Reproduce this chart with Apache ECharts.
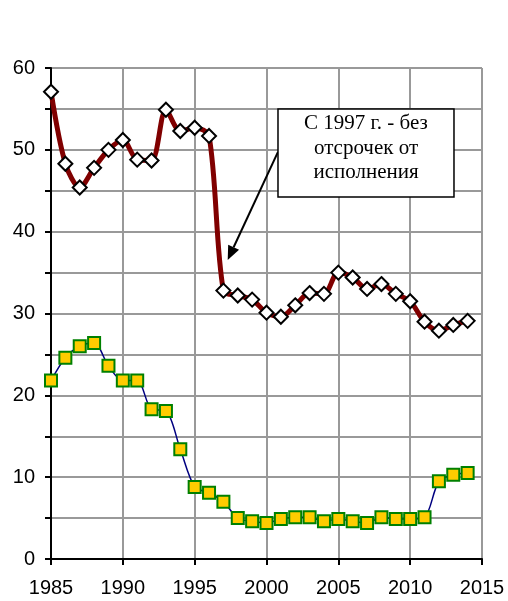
<!DOCTYPE html>
<html><head><meta charset="utf-8">
<script src="https://cdn.jsdelivr.net/npm/echarts@6/dist/echarts.min.js"></script>
<style>html,body{margin:0;padding:0;background:#fff}#c{width:508px;height:601px}</style>
</head><body><div id="c"></div>
<script>
const years = [1985,1986,1987,1988,1989,1990,1991,1992,1993,1994,1995,1996,1997,1998,1999,2000,2001,2002,2003,2004,2005,2006,2007,2008,2009,2010,2011,2012,2013,2014];
const seriesTop = [57.1,48.3,45.4,47.8,50.0,51.2,48.8,48.7,54.9,52.3,52.7,51.7,32.8,32.2,31.7,30.1,29.6,31.0,32.5,32.4,35.0,34.4,33.0,33.6,32.4,31.5,29.0,27.9,28.6,29.1];
const seriesBottom = [21.8,24.6,26.0,26.4,23.6,21.8,21.8,18.3,18.1,13.4,8.8,8.1,7.0,5.0,4.6,4.4,4.9,5.1,5.1,4.6,4.9,4.6,4.4,5.1,4.9,4.9,5.1,9.5,10.3,10.5];
const annotationLines = ['С 1997 г. - без','отсрочек от','исполнения'];

const chart = echarts.init(document.getElementById('c'), null, {renderer:'canvas'});
const font = "'Liberation Sans', Arial, sans-serif";
chart.setOption({
  animation:false,
  grid:{left:51,right:26,top:68,bottom:42,containLabel:false},
  xAxis:{type:'value',min:1985,max:2015,interval:5,
    axisLine:{show:true,onZero:false,lineStyle:{color:'#000',width:2}},
    axisTick:{show:true,length:6,lineStyle:{color:'#000',width:2}},
    axisLabel:{color:'#000',fontSize:20,fontFamily:font,margin:19,formatter:v=>String(v)},
    splitLine:{show:true,lineStyle:{color:'#999',width:2}}},
  yAxis:{type:'value',min:0,max:60,interval:5,
    axisLine:{show:true,lineStyle:{color:'#000',width:2}},
    axisTick:{show:true,length:6,lineStyle:{color:'#000',width:2}},
    axisLabel:{color:'#000',fontSize:20,fontFamily:font,margin:16,
      formatter:v=> (v%10===0? String(v):'')},
    splitLine:{show:true,lineStyle:{color:'#999',width:2}}},
  series:[
    {type:'line',data:years.map((y,i)=>[y,seriesBottom[i]]),smooth:0.3,
      lineStyle:{color:'#000080',width:1.5},symbol:'rect',symbolSize:12,
      itemStyle:{color:'#FFCC00',borderColor:'#008000',borderWidth:2},z:3},
    {type:'line',data:years.map((y,i)=>[y,seriesTop[i]]),smooth:0.3,
      lineStyle:{color:'#800000',width:5},symbol:'diamond',symbolSize:[14,14],
      itemStyle:{color:'#fff',borderColor:'#000',borderWidth:2},z:4}
  ]
});
const p1 = chart.convertToPixel({gridIndex:0},[2000.8,55.0]);
const p2 = chart.convertToPixel({gridIndex:0},[2013.05,44.25]);
const a1 = chart.convertToPixel({gridIndex:0},[2000.8,49.75]);
const a2 = chart.convertToPixel({gridIndex:0},[1997.3,36.55]);
const ang = Math.atan2(a2[1]-a1[1],a2[0]-a1[0]);
const hl=14, hw=6;
const b=[a2[0]-hl*Math.cos(ang),a2[1]-hl*Math.sin(ang)];
const pts=[a2,[b[0]+hw*Math.sin(ang),b[1]-hw*Math.cos(ang)],[b[0]-hw*Math.sin(ang),b[1]+hw*Math.cos(ang)]];
const cx=(p1[0]+p2[0])/2;
chart.setOption({graphic:[
  {type:'line',shape:{x1:a1[0],y1:a1[1],x2:b[0],y2:b[1]},style:{stroke:'#000',lineWidth:2},z:10},
  {type:'polygon',shape:{points:pts},style:{fill:'#000'},z:10},
  {type:'rect',shape:{x:p1[0],y:p1[1],width:p2[0]-p1[0],height:p2[1]-p1[1]},style:{fill:'#fff',stroke:'#000',lineWidth:1.5},z:11},
  ...annotationLines.map((t,i)=>({type:'text',x:cx,y:p1[1]+15+i*24.5,style:{text:t,fill:'#000',font:"21px 'Liberation Serif', 'Times New Roman', serif",textAlign:'center',textVerticalAlign:'middle'},z:12}))
]});
</script></body></html>
